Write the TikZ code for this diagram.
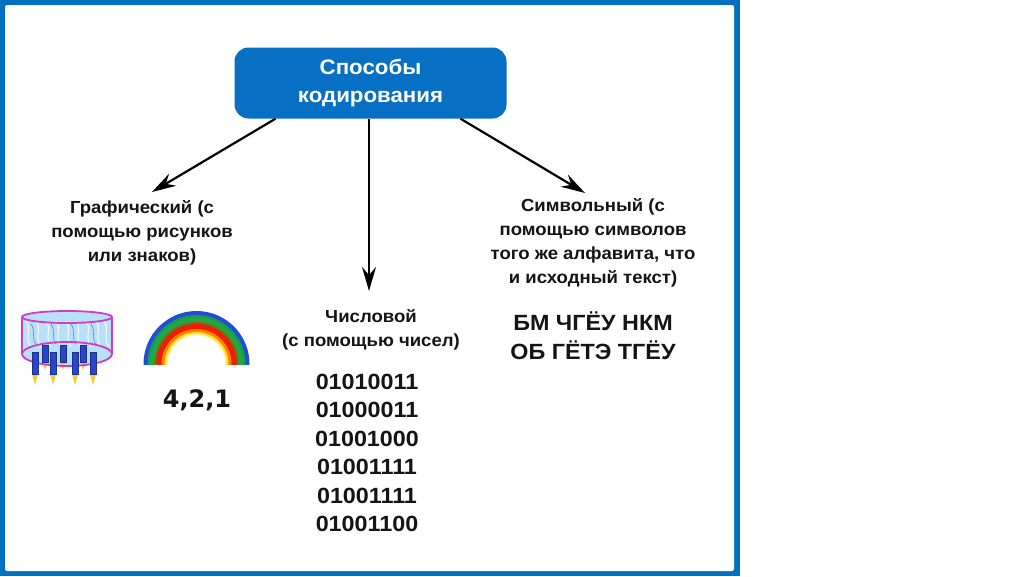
\documentclass[tikz,border=0pt]{standalone}
\usepackage{fontspec}
\setmainfont{Liberation Sans}[FakeStretch=1.06]
\newfontfamily\digitfont{DejaVu Sans}
\usetikzlibrary{arrows.meta}
\definecolor{fblue}{RGB}{0,112,192}
\definecolor{boxblue}{RGB}{8,112,196}
\definecolor{txt}{RGB}{20,20,20}
\definecolor{cylblue}{RGB}{185,224,245}
\definecolor{magen}{RGB}{205,60,200}
\definecolor{candle}{RGB}{40,70,200}
\definecolor{flame}{RGB}{250,200,40}
\definecolor{rbblue}{RGB}{30,80,210}
\definecolor{rbgreen}{RGB}{30,170,60}
\definecolor{rbred}{RGB}{240,30,0}
\definecolor{rborange}{RGB}{255,130,0}
\definecolor{rbyellow}{RGB}{255,225,40}
\tikzset{
  topbox/.style={fill=boxblue, rounded corners=14pt, minimum width=272pt, minimum height=71pt,
     text=white, align=center, font=\fontsize{21}{28}\selectfont\bfseries, inner sep=0pt},
  lbl/.style={align=center, text=txt, font=\fontsize{17.5}{24}\selectfont\bfseries, inner sep=0pt},
  bin/.style={align=center, text=txt, font=\fontsize{22}{28.4}\selectfont\bfseries, inner sep=0pt},
  sym/.style={align=center, text=txt, font=\fontsize{22}{29}\selectfont\bfseries, inner sep=0pt},
  arr/.style={-{Stealth[length=24pt,width=14pt,inset=8pt]}, line width=2.2pt, black},
  candlebody/.style={fill=candle, draw=candle!70!black, line width=0.3pt},
  flamestyle/.style={fill=flame}
}
\begin{document}
\begin{tikzpicture}[x=1pt,y=-1pt]
\useasboundingbox (0,0) rectangle (1024,576);
\fill[white] (0,0) rectangle (1024,576);
% frame
\fill[fblue] (0,0) rectangle (740,576);
\fill[white, rounded corners=2pt] (5,5) rectangle (734,571);

% top box
\node[topbox] (top) at (370.5,83) {Способы\\кодирования};

% labels
\node[lbl] (gr) at (142,233) {Графический (с\\помощью рисунков\\или знаков)};
\node[lbl] (num) at (371,330) {Числовой\\(с помощью чисел)};
\node[lbl] (sy) at (593,243) {Символьный (с\\помощью символов\\того же алфавита, что\\и исходный текст)};

\node[bin] (binary) at (367,453) {01010011\\01000011\\01001000\\01001111\\01001111\\01001100};
\node[sym] (code) at (593,336) {БМ ЧГЁУ НКМ\\ОБ ГЁТЭ ТГЁУ};

% arrows
\coordinate (tipL) at (152,192);
\coordinate (tipM) at (369,291);
\coordinate (tipR) at (585,193);
\draw[arr] ([xshift=-95pt]top.south) -- (tipL);
\draw[arr] ([xshift=-1.5pt]top.south) -- (tipM);
\draw[arr] ([xshift=90pt]top.south) -- (tipR);

% rainbow
\begin{scope}
\clip (140,364) rectangle (255,300);
\fill[rbblue] (196.5,364) circle[radius=53pt];
\fill[rbgreen!80!rbblue] (196.5,364) circle[radius=49pt];
\fill[rbgreen] (196.5,364) circle[radius=46.5pt];
\fill[rbgreen!50!rbred] (196.5,364) circle[radius=42pt];
\fill[rbred] (196.5,364) circle[radius=40pt];
\fill[rborange] (196.5,364) circle[radius=35pt];
\fill[rbyellow] (196.5,364) circle[radius=32pt];
\fill[rbyellow!40] (196.5,364) circle[radius=30pt];
\fill[white] (196.5,364) circle[radius=28.5pt];
\end{scope}
\node[font=\digitfont\bfseries\fontsize{24}{24}\selectfont, text=txt, inner sep=0pt] (nums) at (197,400) {4,2,1};

% chandelier
\fill[cylblue] (22,317) -- (22,354) arc[start angle=180, end angle=360, x radius=45pt, y radius=12pt]
   -- (112,317) -- cycle;
\fill[cylblue] (67,317) ellipse[x radius=45pt, y radius=6pt];
\foreach \sx in {26,36,46,56,66,76,86,96,104}{
  \draw[white, line width=0.9pt] (\sx,321) .. controls (\sx+6,329) and (\sx-2,337) .. (\sx+5,347);
}
\foreach \sx in {31,51,71,91}{
  \draw[cylblue!55!blue, line width=0.6pt] (\sx,324) .. controls (\sx+5,331) and (\sx,338) .. (\sx+5,344);
}
\draw[magen, line width=1.8pt] (67,317) ellipse[x radius=45pt, y radius=6pt];
\draw[magen, line width=1.2pt] (22,317) -- (22,354);
\draw[magen, line width=1.2pt] (112,317) -- (112,354);
% back candles
\foreach \cx in {45,63,83}{
  \fill[flamestyle] (\cx-2.5,362) -- (\cx+2.5,362) -- (\cx,370) -- cycle;
  \fill[candlebody] (\cx-3,345) rectangle (\cx+3,362);
}
\draw[magen, line width=1.8pt] (67,354) ellipse[x radius=45pt, y radius=12pt];
% front candles
\foreach \cx in {35,53,75,93}{
  \fill[flamestyle] (\cx-3,374) -- (\cx+3,374) -- (\cx,385) -- cycle;
  \fill[candlebody] (\cx-3,352) rectangle (\cx+3,374);
}
\end{tikzpicture}
\end{document}
